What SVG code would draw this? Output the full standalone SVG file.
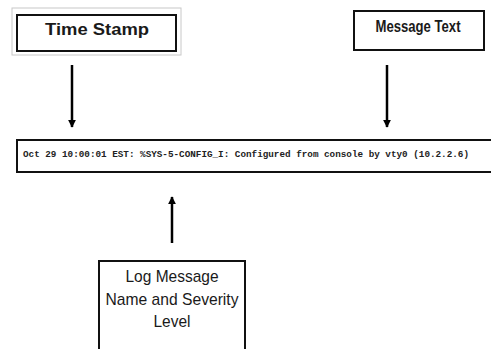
<svg xmlns="http://www.w3.org/2000/svg" width="491" height="349" viewBox="0 0 491 349">
<style>
.box{fill:#fff;stroke:#111;stroke-width:2}
.lbl{font-family:"Liberation Sans",Arial,sans-serif;font-size:17px;fill:#1a1a1a;text-anchor:middle}
.b{font-weight:bold}
.log{font-family:"Liberation Mono","Courier New",monospace;font-size:9.3px;font-weight:bold;fill:#222}
.conn{stroke:#000;stroke-width:2.5;fill:none}
</style>
<defs>
<marker id="ah" viewBox="0 0 10 10" refX="9" refY="5" markerWidth="3.2" markerHeight="3.2" orient="auto" markerUnits="strokeWidth">
<path d="M0,0 L10,5 L0,10 z" fill="#000"/>
</marker>
</defs>
<rect width="491" height="349" fill="#fff"/>
<g id="timestamp">
<rect x="12" y="8" width="169" height="47" fill="#fff" stroke="#c8c8c8" stroke-width="1"/>
<rect class="box" x="17" y="15" width="159" height="36" stroke-width="2.5"/>
<text class="lbl b" x="97" y="35" textLength="104" lengthAdjust="spacingAndGlyphs">Time Stamp</text>
</g>
<g id="messagetext">
<rect class="box" x="354" y="11" width="130" height="39"/>
<text class="lbl b" x="418" y="32" textLength="85" lengthAdjust="spacingAndGlyphs">Message Text</text>
</g>
<g id="logline">
<path d="M493,140 L17,140 L17,172 L493,172" class="box"/>
<text class="log" x="23" y="157" textLength="446" lengthAdjust="spacingAndGlyphs">Oct 29 10:00:01 EST: %SYS-5-CONFIG_I: Configured from console by vty0 (10.2.2.6)</text>
</g>
<g id="logname">
<rect class="box" x="99" y="261" width="146" height="100"/>
<text class="lbl" x="172" y="282" textLength="93" lengthAdjust="spacingAndGlyphs">Log Message</text>
<text class="lbl" x="172" y="305" textLength="133" lengthAdjust="spacingAndGlyphs">Name and Severity</text>
<text class="lbl" x="172" y="327" textLength="37" lengthAdjust="spacingAndGlyphs">Level</text>
</g>
<g id="connectors">
<line class="conn" x1="72" y1="65" x2="72" y2="127" marker-end="url(#ah)"/>
<line class="conn" x1="387" y1="65" x2="387" y2="127" marker-end="url(#ah)"/>
<line class="conn" x1="172" y1="243" x2="172" y2="197" marker-end="url(#ah)"/>
</g>
</svg>
